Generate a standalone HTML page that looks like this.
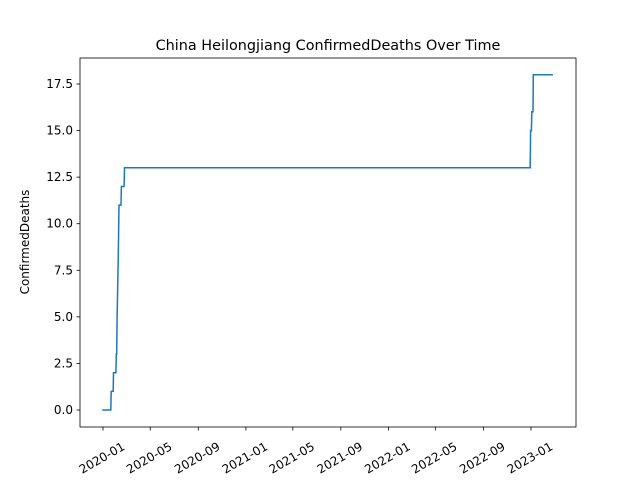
<!DOCTYPE html>
<html><head><meta charset="utf-8"><style>body{margin:0;background:#fff}svg{display:block}text{font-family:"DejaVu Sans","Liberation Sans",sans-serif;fill:#000}</style></head>
<body>
<svg id="chart" width="640" height="480"></svg>
<script>
const dates=["2019-12-30","2020-01-21","2020-01-22","2020-01-27","2020-01-28","2020-02-03","2020-02-04","2020-02-05","2020-02-06","2020-02-09","2020-02-11","2020-02-12","2020-02-16","2020-02-17","2020-02-24","2020-02-25","2022-12-30","2022-12-31","2023-01-02","2023-01-03","2023-01-06","2023-01-07","2023-02-26"];
const values=[0,0,1,1,2,2,3,3,5,8,11,11,11,12,12,13,13,15,15,16,16,18,18];
const xTicks=["2020-01","2020-05","2020-09","2021-01","2021-05","2021-09","2022-01","2022-05","2022-09","2023-01"];
const yTicks=[0,2.5,5,7.5,10,12.5,15,17.5];
const NS="http://www.w3.org/2000/svg",svg=document.getElementById('chart');
const L=80,R=576,T=58,B=427;
const d0=Date.parse("2020-01-01"),d1=Date.parse("2023-01-01");
const X=d=>103+(Date.parse(d)-d0)/(d1-d0)*428;
const Y=v=>410-v*(326/17.5);
function el(t,a,p){const e=document.createElementNS(NS,t);for(const k in a)e.setAttribute(k,a[k]);(p||svg).appendChild(e);return e;}
const frame=el('rect',{x:L,y:T,width:R-L,height:B-T,fill:'none',stroke:'#000','stroke-width':0.8});


const title=el('text',{x:328,y:50,'text-anchor':'middle','font-size':14.4});title.textContent="China Heilongjiang ConfirmedDeaths Over Time";


const yl=el('text',{x:0,y:0,'text-anchor':'middle','font-size':12,transform:'translate(29,242) rotate(-90)'});yl.textContent="ConfirmedDeaths";


yTicks.forEach(v=>{const y=Y(v);
const tk=el('line',{x1:L-3.5,x2:L,y1:y,y2:y,stroke:'#000','stroke-width':0.8});


const t=el('text',{x:L-7,y:y+4,'text-anchor':'end','font-size':12});t.textContent=v.toFixed(1);

});
xTicks.forEach(s=>{const x=X(s+"-01");
const tk=el('line',{x1:x,x2:x,y1:B,y2:B+3.5,stroke:'#000','stroke-width':0.8});


const t=el('text',{x:0,y:4,'text-anchor':'middle','font-size':12,transform:`translate(${x-1},${B+31}) rotate(-30)`});t.textContent=s;

});
const pts=dates.map((d,i)=>X(d).toFixed(1)+","+Y(values[i]).toFixed(1)).join(" ");
const line=el('polyline',{points:pts,fill:'none',stroke:'#1f77b4','stroke-width':1.5});


</script>
</body></html>
